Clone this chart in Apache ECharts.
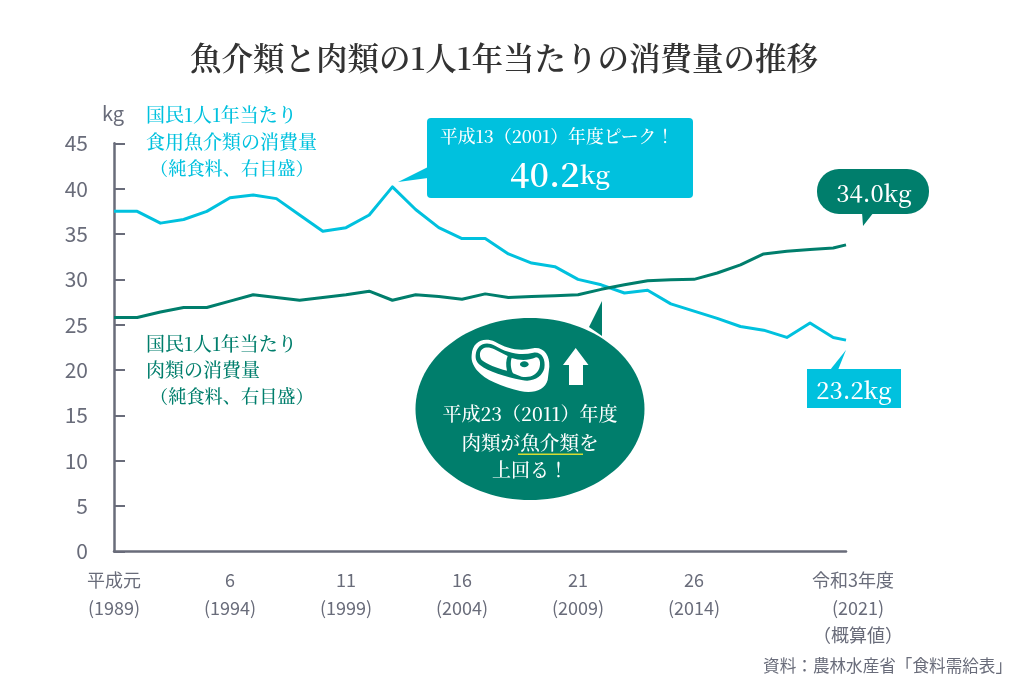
<!DOCTYPE html>
<html><head><meta charset="utf-8">
<style>html,body{margin:0;padding:0;background:#fff}#c{width:1024px;height:685px}</style>
<script src="https://cdn.jsdelivr.net/npm/echarts@6/dist/echarts.min.js"></script>
</head><body><div id="c"></div>
<script>
const years = [1989,1990,1991,1992,1993,1994,1995,1996,1997,1998,1999,2000,2001,2002,2003,2004,2005,2006,2007,2008,2009,2010,2011,2012,2013,2014,2015,2016,2017,2018,2019,2020,2020.55];
const fish = [37.5,37.5,36.2,36.6,37.5,39.0,39.3,38.9,37.1,35.3,35.7,37.1,40.2,37.7,35.7,34.5,34.5,32.8,31.8,31.4,30.0,29.4,28.5,28.8,27.3,26.5,25.7,24.8,24.4,23.6,25.2,23.6,23.3];
const meat = [25.8,25.8,26.4,26.9,26.9,27.6,28.3,28.0,27.7,28.0,28.3,28.7,27.7,28.3,28.1,27.8,28.4,28.0,28.1,28.2,28.3,28.9,29.4,29.85,29.95,30.0,30.7,31.6,32.8,33.1,33.3,33.45,33.8];
const xTicks = [1989,1994,1999,2004,2009,2014,2020.55];
const xTop = ['平成元','6','11','16','21','26'];
const xBottom = ['(1989)','(1994)','(1999)','(2004)','(2009)','(2014)'];
const lastLabel = ['令和3年度','(2021)','（概算値）'];

const SANS = '"Noto Sans CJK JP","Noto Sans",sans-serif';
const SERIF = '"Noto Serif CJK JP","Liberation Serif","Noto Sans CJK JP",serif';
const CYAN = '#00c1de', GREEN = '#007e6c', GRAY = '#696c7a';

echarts.graphic.registerShape('meatOuter', echarts.graphic.extendPath('M20 75C22 35 55 20 90 35C125 55 160 65 205 55C235 50 255 75 253 110L248 150C240 180 205 192 165 183C110 170 60 150 35 120C25 105 18 95 20 75Z', {}));
echarts.graphic.registerShape('meatFace', echarts.graphic.extendPath('M32 75C35 45 60 32 90 47C125 68 165 78 205 68C228 64 243 85 238 115C232 140 205 158 170 150C120 140 70 125 45 105C36 97 31 90 32 75Z', {}));
echarts.graphic.registerShape('meatCuts', echarts.graphic.extendPath('M45 70C48 52 68 48 88 58L128 78C123 90 122 105 126 122C95 115 65 102 50 90C46 85 44 78 45 70ZM140 84C165 92 190 92 213 82C225 82 228 100 223 115C215 135 195 145 170 140L144 130C136 115 136 95 140 84Z', {}));

function t(x, y, text, size, fill, align, family, weight) {
  return {type:'text', x, y, z:20, style:{text, fontSize:size, fill, align:align||'left', verticalAlign:'middle',
    fontFamily:family||SERIF, fontWeight:weight||500}};
}
const icon = {x:465, y:330, scaleX:1/3, scaleY:1/3};
const graphic = [
  t(504,58,'魚介類と肉類の1人1年当たりの消費量の推移',31.5,'#333','center',SERIF,600),
  t(102,113,'kg',20,GRAY,'left',SANS,400),
  t(146,115,'国民1人1年当たり',19,CYAN), t(146,142,'食用魚介類の消費量',19,CYAN), t(150,168,'（純食料、右目盛）',18.2,CYAN),
  t(146,344,'国民1人1年当たり',19,GREEN), t(146,370,'肉類の消費量',19,GREEN), t(150,396,'（純食料、右目盛）',18.2,GREEN),
  {type:'polygon', z:10, shape:{points:[[398,182],[428,167],[428,178]]}, style:{fill:CYAN}},
  {type:'rect', z:10, shape:{x:427,y:118,width:266,height:80,r:4}, style:{fill:CYAN}},
  t(557,136,'平成13（2001）年度ピーク！',17.8,'#fff','center'),
  {type:'text', z:20, x:560, y:174, style:{rich:{a:{fontSize:34,fontWeight:600,fill:'#fff',fontFamily:SERIF},b:{fontSize:25,fontWeight:600,fill:'#fff',fontFamily:SERIF}},text:'{a|40.2}{b|kg}',align:'center',verticalAlign:'middle'}},
  {type:'polygon', z:10, shape:{points:[[602,301],[589,327],[602,336]]}, style:{fill:GREEN}},
  {type:'ellipse', z:10, shape:{cx:530,cy:409,rx:114.5,ry:91}, style:{fill:GREEN}},
  Object.assign({type:'meatOuter', z:12, style:{fill:'#fff'}}, icon),
  Object.assign({type:'meatFace', z:13, style:{fill:GREEN}}, icon),
  Object.assign({type:'meatCuts', z:14, style:{fill:'#fff'}}, icon),
  {type:'ellipse', z:15, shape:{cx:524.3,cy:364.3,rx:4.3,ry:3}, style:{fill:GREEN}},
  {type:'polygon', z:12, shape:{points:[[575.7,348],[588.5,365],[583,365],[583,385],[569,385],[569,365],[563,365]]}, style:{fill:'#fff'}},
  t(530,414,'平成23（2011）年度',19,'#fff','center'),
  t(530,443,'肉類が魚介類を',19.6,'#fff','center'),
  {type:'rect', z:20, shape:{x:518,y:453.5,width:65,height:1.5}, style:{fill:'#d6dc32'}},
  t(530,470,'上回る！',19,'#fff','center'),
  {type:'polygon', z:10, shape:{points:[[863,226],[862,212],[874,212]]}, style:{fill:GREEN}},
  {type:'rect', z:10, shape:{x:817,y:169,width:112,height:45,r:22}, style:{fill:GREEN}},
  t(874,193,'34.0kg',23.5,'#fff','center'),
  {type:'polygon', z:10, shape:{points:[[846,350],[830,370],[838,370]]}, style:{fill:CYAN}},
  {type:'rect', z:10, shape:{x:807,y:369,width:94,height:39}, style:{fill:CYAN}},
  t(854,390,'23.2kg',23.5,'#fff','center'),
  t(1012,666,'資料：農林水産省「食料需給表」',16.6,GRAY,'right',SANS,400)
];

const lbl = {fontSize:18,lineHeight:27.5,color:GRAY,fontFamily:SANS};
const chart = echarts.init(document.getElementById('c'), null, {renderer:'canvas'});
chart.setOption({
  animation:false,
  backgroundColor:'#fff',
  grid:{left:114,right:178,top:143.3,bottom:133.5},
  xAxis:{type:'value',min:1989,max:2020.55,splitLine:{show:false},
    axisLine:{show:true,onZero:false,lineStyle:{color:GRAY,width:2.5}},
    axisTick:{show:false},
    axisLabel:{customValues:xTicks,margin:15,hideOverlap:false,showMinLabel:true,showMaxLabel:true,
      fontFamily:SANS,fontSize:18,color:GRAY,lineHeight:27.5,
      formatter:function(v){
        const i = xTicks.indexOf(v);
        if(i<xTop.length) return '{n|'+xTop[i]+'}\n{n|'+xBottom[i]+'}';
        return '{a|'+lastLabel[0]+'}\n{b|'+lastLabel[1]+'}\n{b|'+lastLabel[2]+'}';
      },
      rich:{n:lbl,a:Object.assign({},lbl,{padding:[0,0,0,14]}),b:Object.assign({},lbl,{padding:[0,0,0,24]})}
    }},
  yAxis:{type:'value',min:0,max:45,interval:5,splitLine:{show:false},
    axisLine:{show:true,lineStyle:{color:GRAY,width:2.5}},
    axisTick:{show:true,inside:true,length:11,lineStyle:{color:GRAY,width:2}},
    axisLabel:{margin:26,fontSize:21,color:GRAY,fontFamily:SANS}},
  series:[
    {name:'食用魚介類',type:'line',symbol:'none',z:3,lineStyle:{color:CYAN,width:3,join:'round'},data:years.map((y,i)=>[y,fish[i]])},
    {name:'肉類',type:'line',symbol:'none',z:4,lineStyle:{color:GREEN,width:3,join:'round'},data:years.map((y,i)=>[y,meat[i]])}
  ],
  graphic:{elements:graphic}
});
</script></body></html>
